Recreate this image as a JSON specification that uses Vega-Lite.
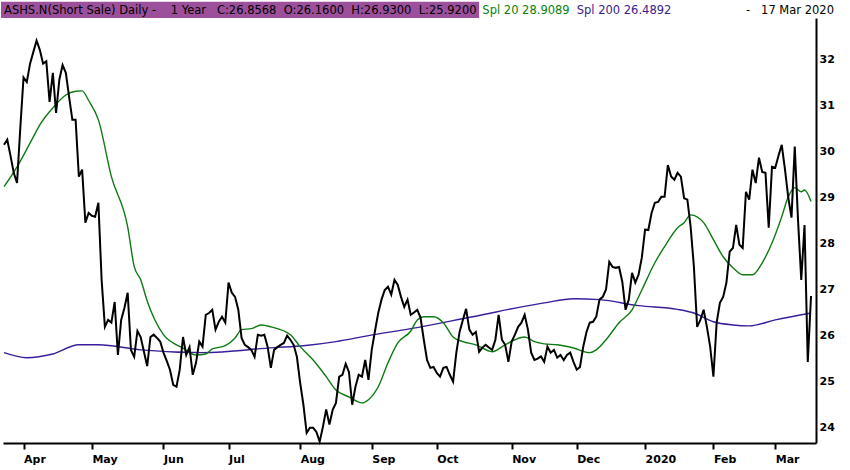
{
  "$schema": "https://vega.github.io/schema/vega-lite/v6.json",
  "width": 813,
  "height": 425,
  "autosize": {"type": "none"},
  "padding": {"left": 3, "top": 18, "right": 34, "bottom": 27},
  "background": "white",
  "config": {
    "view": {"stroke": null},
    "axisRight": {
      "title": null,
      "grid": false,
      "values": [24, 25, 26, 27, 28, 29, 30, 31, 32],
      "ticks": false,
      "labelPadding": 3,
      "labelAlign": "left",
      "labelFont": "DejaVu Sans",
      "labelFontSize": 11,
      "labelFontWeight": "bold",
      "labelColor": "#000000",
      "domainColor": "#000000",
      "domainWidth": 2
    }
  },
  "datasets": {
    "px": [
      {"d":"2019-03-22","v":30.14},{"d":"2019-03-25","v":30.25},{"d":"2019-03-26","v":29.9},{"d":"2019-03-27","v":29.53},{"d":"2019-03-28","v":29.31},{"d":"2019-03-29","v":30.5},
      {"d":"2019-04-01","v":31.6},{"d":"2019-04-02","v":31.5},{"d":"2019-04-03","v":31.9},{"d":"2019-04-04","v":32.15},{"d":"2019-04-05","v":32.4},{"d":"2019-04-08","v":32.2},{"d":"2019-04-09","v":31.9},{"d":"2019-04-10","v":31.95},{"d":"2019-04-11","v":31.07},{"d":"2019-04-12","v":31.7},{"d":"2019-04-15","v":30.83},{"d":"2019-04-16","v":31.55},{"d":"2019-04-17","v":31.87},{"d":"2019-04-18","v":31.7},{"d":"2019-04-22","v":31.18},{"d":"2019-04-23","v":30.68},{"d":"2019-04-24","v":30.68},{"d":"2019-04-25","v":29.45},{"d":"2019-04-26","v":29.6},{"d":"2019-04-29","v":28.45},{"d":"2019-04-30","v":28.66},
      {"d":"2019-05-01","v":28.6},{"d":"2019-05-02","v":28.58},{"d":"2019-05-03","v":28.88},{"d":"2019-05-06","v":27.2},{"d":"2019-05-07","v":26.19},{"d":"2019-05-08","v":26.34},{"d":"2019-05-09","v":26.28},{"d":"2019-05-10","v":26.73},{"d":"2019-05-13","v":25.58},{"d":"2019-05-14","v":26.34},{"d":"2019-05-15","v":26.6},{"d":"2019-05-16","v":26.93},{"d":"2019-05-17","v":25.69},{"d":"2019-05-20","v":25.54},{"d":"2019-05-21","v":26.1},{"d":"2019-05-22","v":25.97},{"d":"2019-05-23","v":25.65},{"d":"2019-05-24","v":25.34},{"d":"2019-05-28","v":25.97},{"d":"2019-05-29","v":26.02},{"d":"2019-05-30","v":25.95},{"d":"2019-05-31","v":25.87},
      {"d":"2019-06-03","v":25.63},{"d":"2019-06-04","v":25.45},{"d":"2019-06-05","v":25.26},{"d":"2019-06-06","v":24.93},{"d":"2019-06-07","v":24.89},{"d":"2019-06-10","v":25.26},{"d":"2019-06-11","v":25.97},{"d":"2019-06-12","v":25.58},{"d":"2019-06-13","v":25.75},{"d":"2019-06-14","v":25.15},{"d":"2019-06-17","v":25.41},{"d":"2019-06-18","v":25.87},{"d":"2019-06-19","v":25.76},{"d":"2019-06-20","v":26.45},{"d":"2019-06-21","v":26.49},{"d":"2019-06-24","v":26.56},{"d":"2019-06-25","v":26.13},{"d":"2019-06-26","v":26.3},{"d":"2019-06-27","v":26.41},{"d":"2019-06-28","v":26.28},
      {"d":"2019-07-01","v":27.15},{"d":"2019-07-02","v":26.93},{"d":"2019-07-03","v":26.84},{"d":"2019-07-05","v":26.56},{"d":"2019-07-08","v":25.95},{"d":"2019-07-09","v":25.8},{"d":"2019-07-10","v":25.75},{"d":"2019-07-11","v":25.69},{"d":"2019-07-12","v":25.54},{"d":"2019-07-15","v":26.02},{"d":"2019-07-16","v":26.0},{"d":"2019-07-17","v":26.02},{"d":"2019-07-18","v":25.76},{"d":"2019-07-19","v":25.3},{"d":"2019-07-22","v":25.69},{"d":"2019-07-23","v":25.75},{"d":"2019-07-24","v":25.8},{"d":"2019-07-25","v":25.84},{"d":"2019-07-26","v":26.0},{"d":"2019-07-29","v":25.91},{"d":"2019-07-30","v":25.8},{"d":"2019-07-31","v":25.54},
      {"d":"2019-08-01","v":24.98},{"d":"2019-08-02","v":24.5},{"d":"2019-08-05","v":23.89},{"d":"2019-08-06","v":24.0},{"d":"2019-08-07","v":24.0},{"d":"2019-08-08","v":23.91},{"d":"2019-08-09","v":23.7},{"d":"2019-08-12","v":24.02},{"d":"2019-08-13","v":24.4},{"d":"2019-08-14","v":24.07},{"d":"2019-08-15","v":24.39},{"d":"2019-08-16","v":24.54},{"d":"2019-08-19","v":25.11},{"d":"2019-08-20","v":25.15},{"d":"2019-08-21","v":25.39},{"d":"2019-08-22","v":25.21},{"d":"2019-08-23","v":24.5},{"d":"2019-08-26","v":24.89},{"d":"2019-08-27","v":25.15},{"d":"2019-08-28","v":25.11},{"d":"2019-08-29","v":25.47},{"d":"2019-08-30","v":25.04},
      {"d":"2019-09-03","v":25.69},{"d":"2019-09-04","v":26.1},{"d":"2019-09-05","v":26.49},{"d":"2019-09-06","v":26.78},{"d":"2019-09-09","v":26.99},{"d":"2019-09-10","v":27.06},{"d":"2019-09-11","v":26.89},{"d":"2019-09-12","v":27.21},{"d":"2019-09-13","v":27.1},{"d":"2019-09-16","v":26.84},{"d":"2019-09-17","v":26.62},{"d":"2019-09-18","v":26.78},{"d":"2019-09-19","v":26.45},{"d":"2019-09-20","v":26.5},{"d":"2019-09-23","v":26.56},{"d":"2019-09-24","v":26.39},{"d":"2019-09-25","v":25.91},{"d":"2019-09-26","v":25.47},{"d":"2019-09-27","v":25.3},{"d":"2019-09-30","v":25.32},
      {"d":"2019-10-01","v":25.19},{"d":"2019-10-02","v":25.11},{"d":"2019-10-03","v":25.3},{"d":"2019-10-04","v":25.32},{"d":"2019-10-07","v":25.15},{"d":"2019-10-08","v":25.0},{"d":"2019-10-09","v":25.63},{"d":"2019-10-10","v":26.08},{"d":"2019-10-11","v":26.34},{"d":"2019-10-14","v":26.58},{"d":"2019-10-15","v":26.13},{"d":"2019-10-16","v":26.02},{"d":"2019-10-17","v":26.08},{"d":"2019-10-18","v":25.65},{"d":"2019-10-21","v":25.74},{"d":"2019-10-22","v":25.8},{"d":"2019-10-23","v":25.74},{"d":"2019-10-24","v":25.69},{"d":"2019-10-25","v":25.91},{"d":"2019-10-28","v":26.45},{"d":"2019-10-29","v":25.91},{"d":"2019-10-30","v":25.8},{"d":"2019-10-31","v":25.43},
      {"d":"2019-11-01","v":25.87},{"d":"2019-11-04","v":26.02},{"d":"2019-11-05","v":26.19},{"d":"2019-11-06","v":26.28},{"d":"2019-11-07","v":26.45},{"d":"2019-11-08","v":26.13},{"d":"2019-11-11","v":25.63},{"d":"2019-11-12","v":25.47},{"d":"2019-11-13","v":25.5},{"d":"2019-11-14","v":25.55},{"d":"2019-11-15","v":25.43},{"d":"2019-11-18","v":25.76},{"d":"2019-11-19","v":25.63},{"d":"2019-11-20","v":25.69},{"d":"2019-11-21","v":25.52},{"d":"2019-11-22","v":25.58},{"d":"2019-11-25","v":25.47},{"d":"2019-11-26","v":25.58},{"d":"2019-11-27","v":25.63},{"d":"2019-11-29","v":25.43},
      {"d":"2019-12-02","v":25.26},{"d":"2019-12-03","v":25.32},{"d":"2019-12-04","v":25.76},{"d":"2019-12-05","v":26.08},{"d":"2019-12-06","v":26.28},{"d":"2019-12-09","v":26.3},{"d":"2019-12-10","v":26.41},{"d":"2019-12-11","v":26.78},{"d":"2019-12-12","v":26.84},{"d":"2019-12-13","v":27.0},{"d":"2019-12-16","v":27.6},{"d":"2019-12-17","v":27.49},{"d":"2019-12-18","v":27.47},{"d":"2019-12-19","v":27.49},{"d":"2019-12-20","v":27.17},{"d":"2019-12-23","v":26.56},{"d":"2019-12-24","v":26.78},{"d":"2019-12-26","v":27.36},{"d":"2019-12-27","v":27.15},{"d":"2019-12-30","v":27.32},{"d":"2019-12-31","v":27.69},
      {"d":"2020-01-02","v":28.3},{"d":"2020-01-03","v":28.29},{"d":"2020-01-06","v":28.66},{"d":"2020-01-07","v":28.88},{"d":"2020-01-08","v":28.9},{"d":"2020-01-09","v":29.01},{"d":"2020-01-10","v":29.01},{"d":"2020-01-13","v":29.7},{"d":"2020-01-14","v":29.45},{"d":"2020-01-15","v":29.38},{"d":"2020-01-16","v":29.53},{"d":"2020-01-17","v":29.45},{"d":"2020-01-21","v":28.98},{"d":"2020-01-22","v":28.95},{"d":"2020-01-23","v":28.36},{"d":"2020-01-24","v":27.5},{"d":"2020-01-27","v":26.19},{"d":"2020-01-28","v":26.34},{"d":"2020-01-29","v":26.56},{"d":"2020-01-30","v":26.19},{"d":"2020-01-31","v":25.76},
      {"d":"2020-02-03","v":25.11},{"d":"2020-02-04","v":26.28},{"d":"2020-02-05","v":26.71},{"d":"2020-02-06","v":26.84},{"d":"2020-02-07","v":27.15},{"d":"2020-02-10","v":27.82},{"d":"2020-02-11","v":27.9},{"d":"2020-02-12","v":28.4},{"d":"2020-02-13","v":27.97},{"d":"2020-02-14","v":27.9},{"d":"2020-02-18","v":29.12},{"d":"2020-02-19","v":28.95},{"d":"2020-02-20","v":29.6},{"d":"2020-02-21","v":29.31},{"d":"2020-02-24","v":29.86},{"d":"2020-02-25","v":29.55},{"d":"2020-02-26","v":29.53},{"d":"2020-02-27","v":28.34},{"d":"2020-02-28","v":29.66},
      {"d":"2020-03-02","v":29.64},{"d":"2020-03-03","v":29.9},{"d":"2020-03-04","v":30.14},{"d":"2020-03-05","v":29.6},{"d":"2020-03-06","v":29.0},{"d":"2020-03-09","v":28.56},{"d":"2020-03-10","v":30.1},{"d":"2020-03-11","v":28.51},{"d":"2020-03-12","v":27.21},{"d":"2020-03-13","v":28.4},{"d":"2020-03-16","v":25.43},{"d":"2020-03-17","v":26.86}
    ],
    "spl20": [
      {"d":"2019-03-22","v":29.23},{"d":"2019-03-28","v":29.66},{"d":"2019-04-04","v":30.31},{"d":"2019-04-08","v":30.57},{"d":"2019-04-12","v":30.94},{"d":"2019-04-18","v":31.22},{"d":"2019-04-24","v":31.3},{"d":"2019-04-26","v":31.31},{"d":"2019-04-30","v":31.1},
      {"d":"2019-05-03","v":30.68},{"d":"2019-05-09","v":29.45},{"d":"2019-05-16","v":28.36},{"d":"2019-05-20","v":27.5},{"d":"2019-05-22","v":27.21},{"d":"2019-05-24","v":26.75},
      {"d":"2019-06-03","v":26.02},{"d":"2019-06-11","v":25.73},{"d":"2019-06-17","v":25.58},{"d":"2019-06-20","v":25.6},{"d":"2019-06-24","v":25.71},{"d":"2019-06-28","v":25.78},
      {"d":"2019-07-03","v":25.95},{"d":"2019-07-08","v":26.13},{"d":"2019-07-11","v":26.15},{"d":"2019-07-16","v":26.23},{"d":"2019-07-19","v":26.19},{"d":"2019-07-29","v":26.02},
      {"d":"2019-08-01","v":25.76},{"d":"2019-08-07","v":25.47},{"d":"2019-08-13","v":25.11},{"d":"2019-08-16","v":24.82},{"d":"2019-08-22","v":24.67},{"d":"2019-08-28","v":24.54},{"d":"2019-08-30","v":24.61},
      {"d":"2019-09-05","v":24.89},{"d":"2019-09-10","v":25.41},{"d":"2019-09-13","v":25.84},{"d":"2019-09-19","v":26.1},{"d":"2019-09-23","v":26.34},{"d":"2019-09-25","v":26.41},{"d":"2019-09-30","v":26.41},
      {"d":"2019-10-03","v":26.28},{"d":"2019-10-08","v":25.97},{"d":"2019-10-11","v":25.87},{"d":"2019-10-17","v":25.8},{"d":"2019-10-24","v":25.65},{"d":"2019-10-30","v":25.8},
      {"d":"2019-11-04","v":25.91},{"d":"2019-11-07","v":25.97},{"d":"2019-11-12","v":25.87},{"d":"2019-11-15","v":25.82},{"d":"2019-11-21","v":25.8},{"d":"2019-11-29","v":25.73},
      {"d":"2019-12-06","v":25.63},{"d":"2019-12-10","v":25.69},{"d":"2019-12-13","v":25.91},{"d":"2019-12-19","v":26.28},{"d":"2019-12-26","v":26.56},{"d":"2019-12-31","v":26.99},
      {"d":"2020-01-07","v":27.58},{"d":"2020-01-10","v":27.93},{"d":"2020-01-16","v":28.34},{"d":"2020-01-21","v":28.45},{"d":"2020-01-23","v":28.62},{"d":"2020-01-29","v":28.45},
      {"d":"2020-02-03","v":28.08},{"d":"2020-02-06","v":27.71},{"d":"2020-02-11","v":27.47},{"d":"2020-02-14","v":27.32},{"d":"2020-02-20","v":27.32},{"d":"2020-02-25","v":27.58},{"d":"2020-02-28","v":28.01},
      {"d":"2020-03-04","v":28.58},{"d":"2020-03-06","v":29.01},{"d":"2020-03-10","v":29.21},{"d":"2020-03-12","v":29.12},{"d":"2020-03-13","v":29.16},{"d":"2020-03-17","v":28.91}
    ],
    "spl200": [
      {"d":"2019-03-22","v":25.63},{"d":"2019-04-02","v":25.52},{"d":"2019-04-12","v":25.6},{"d":"2019-04-25","v":25.8},{"d":"2019-05-03","v":25.8},{"d":"2019-05-22","v":25.69},{"d":"2019-06-19","v":25.63},{"d":"2019-07-22","v":25.74},{"d":"2019-08-02","v":25.78},{"d":"2019-08-16","v":25.87},{"d":"2019-08-30","v":26.0},{"d":"2019-09-19","v":26.15},{"d":"2019-10-16","v":26.41},{"d":"2019-11-15","v":26.71},{"d":"2019-11-29","v":26.8},{"d":"2019-12-11","v":26.78},{"d":"2019-12-30","v":26.65},{"d":"2020-01-16","v":26.57},{"d":"2020-01-24","v":26.49},{"d":"2020-02-03","v":26.3},{"d":"2020-02-11","v":26.23},{"d":"2020-02-19","v":26.21},{"d":"2020-03-02","v":26.34},{"d":"2020-03-17","v":26.49}
    ],
    "hdr": [
      {"d":"2019-03-22","t":"ASHS.N(Short Sale) Daily -\u00a0\u00a0\u00a0\u00a01 Year\u00a0\u00a0\u00a0C:26.8568\u00a0 O:26.1600\u00a0 H:26.9300\u00a0 L:25.9200","k":"main"},
      {"d":"2019-10-21","t":"Spl 20 28.9089","k":"spl20"},
      {"d":"2019-12-02","t":"Spl 200 26.4892","k":"spl200"},
      {"d":"2020-02-18","t":"-\u00a0\u00a0\u00a017 Mar 2020","k":"date"}
    ],
    "bar": [{"d":"2019-03-22","d1":"2019-10-18"}]
  },
  "encoding": {
    "x": {
      "field": "d",
      "type": "ordinal",
      "scale": {"type": "point", "padding": 0.92, "align": 0.17},
      "axis": {
        "orient": "bottom",
        "title": null,
        "grid": false,
        "values": ["2019-04-01","2019-05-01","2019-06-03","2019-07-01","2019-08-01","2019-09-03","2019-10-01","2019-11-01","2019-12-02","2020-01-02","2020-02-03","2020-03-02"],
        "labelExpr": "datum.value == '2020-01-02' ? '2020' : utcFormat(toDate(datum.value), '%b')",
        "labelAngle": 0,
        "labelAlign": "left",
        "labelBaseline": "top",
        "labelOverlap": false,
        "labelPadding": 4,
        "labelFont": "DejaVu Sans",
        "labelFontSize": 11,
        "labelFontWeight": "bold",
        "labelColor": "#000000",
        "tickSize": 6,
        "tickWidth": 2,
        "tickColor": "#000000",
        "domainColor": "#000000",
        "domainWidth": 2
      }
    }
  },
  "layer": [
    {
      "data": {"name": "bar"},
      "mark": {"type": "rect", "color": "#9c509b", "xOffset": -3, "clip": false},
      "encoding": {
        "x2": {"field": "d1"},
        "y": {"datum": 32.89, "type": "quantitative", "scale": {"domain": [23.67, 32.89], "nice": false, "zero": false}, "axis": {"orient": "right"}},
        "y2": {"datum": 33.24}
      }
    },
    {
      "data": {"name": "spl200"},
      "mark": {"type": "line", "color": "#3a1d9c", "strokeWidth": 1.4, "interpolate": "monotone"},
      "encoding": {
        "y": {"field": "v", "type": "quantitative", "scale": {"domain": [23.67, 32.89], "nice": false, "zero": false}, "axis": {"orient": "right"}}
      }
    },
    {
      "data": {"name": "spl20"},
      "mark": {"type": "line", "color": "#0e7a12", "strokeWidth": 1.4, "interpolate": "monotone"},
      "encoding": {
        "y": {"field": "v", "type": "quantitative", "scale": {"domain": [23.67, 32.89], "nice": false, "zero": false}, "axis": {"orient": "right"}}
      }
    },
    {
      "data": {"name": "px"},
      "mark": {"type": "line", "color": "#000000", "strokeWidth": 2},
      "encoding": {
        "y": {"field": "v", "type": "quantitative", "scale": {"domain": [23.67, 32.89], "nice": false, "zero": false}, "axis": {"orient": "right"}}
      }
    },
    {
      "data": {"name": "hdr"},
      "mark": {"type": "text", "align": "left", "baseline": "middle", "font": "DejaVu Sans", "fontSize": 11.5, "clip": false},
      "encoding": {
        "y": {"datum": 33.05, "type": "quantitative", "scale": {"domain": [23.67, 32.89], "nice": false, "zero": false}, "axis": {"orient": "right"}},
        "text": {"field": "t"},
        "color": {
          "field": "k",
          "type": "nominal",
          "scale": {"domain": ["main", "spl20", "spl200", "date"], "range": ["#000000", "#0a800a", "#3a1d8c", "#000000"]},
          "legend": null
        }
      }
    }
  ]
}
